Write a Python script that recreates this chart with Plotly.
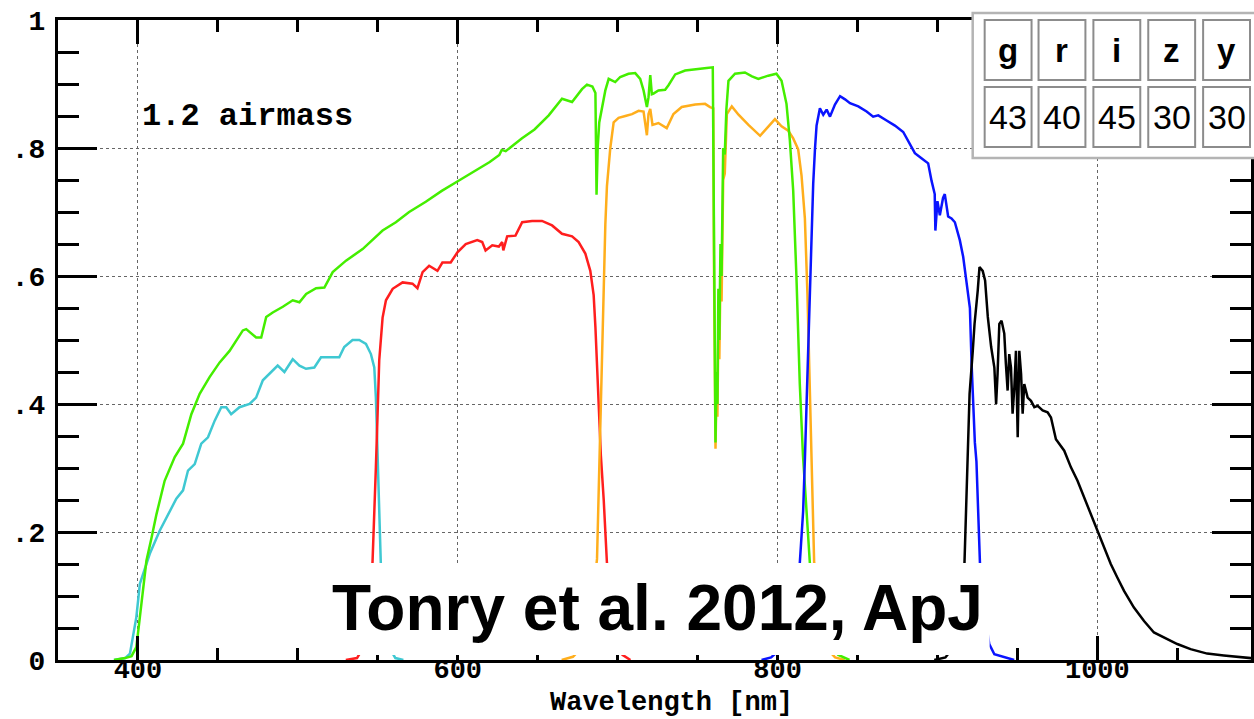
import plotly.graph_objects as go

# Throughput curves at 1.2 airmass (wavelength in nm, fractional throughput)
open_wl = [385, 392, 396, 399, 401.2, 403.6, 405.3, 408.4, 411.6, 416.7, 423, 428.2, 433.4,
           438.6, 444.8, 451.1, 457.3, 465.6, 467.7, 473.9, 477.1, 480.2, 484.3, 490.6, 496.8,
           501, 505.2, 511.4, 516.6, 521.8, 530.1, 540.5, 553, 561.3, 569.6, 580, 590, 600,
           610, 620, 626, 627.5, 630, 640, 648, 656.9, 665.2, 671.5, 677.7, 680.8, 684.2,
           686.1, 686.8, 687.5, 688.5, 690.2, 692.3, 694.4, 698.5, 701.6, 706.8, 711, 714.1,
           716.2, 718.3, 719.3, 720.4, 721.4, 722.4, 725.5, 729.7, 731.8, 736, 742.2, 750.5,
           755.7, 759.5, 760.2, 760.8, 761.2, 761.8, 762.4, 763, 763.6, 764.3, 765, 766, 767,
           768, 769.3, 773.4, 779.6, 784, 788, 794.2, 799.3, 802.5, 805.6, 807.7, 809.8, 811.8,
           813.9, 815.9, 818, 820.2, 824, 830, 838, 845]
open_tp = [0.0, 0.003, 0.006, 0.02, 0.067, 0.119, 0.155, 0.190, 0.228, 0.280, 0.317, 0.338, 0.384,
           0.416, 0.442, 0.465, 0.483, 0.515, 0.517, 0.504, 0.504, 0.536, 0.543, 0.552, 0.562,
           0.559, 0.572, 0.581, 0.582, 0.606, 0.624, 0.642, 0.671, 0.684, 0.700, 0.716, 0.733, 0.748,
           0.763, 0.778, 0.789, 0.797, 0.795, 0.815, 0.829, 0.851, 0.877, 0.872, 0.892, 0.899, 0.896,
           0.886, 0.727, 0.800, 0.840, 0.864, 0.890, 0.908, 0.903, 0.911, 0.916, 0.917, 0.908,
           0.890, 0.864, 0.879, 0.914, 0.884, 0.885, 0.890, 0.891, 0.898, 0.915, 0.921, 0.924,
           0.925, 0.926, 0.700, 0.400, 0.340, 0.450, 0.400, 0.580, 0.500, 0.650, 0.600, 0.800, 0.790,
           0.860, 0.905, 0.916, 0.918, 0.912, 0.908, 0.913, 0.916, 0.905, 0.869, 0.812, 0.733, 0.600,
           0.432, 0.320, 0.237, 0.152, 0.080, 0.030, 0.008, 0.0]

g_wl = [385, 392, 395, 397, 399, 401.2, 403.2, 407.4, 413.6, 419.9, 424, 428.2, 431.3, 435.5,
        439.6, 443.8, 448, 452.1, 455.2, 458.3, 463.5, 469.8, 473.9, 478.1, 482.3, 487.4, 491.6,
        496.8, 501, 505.1, 510.3, 514.5, 519.7, 525.9, 529, 534.2, 538.4, 542.6, 545.7, 547.8,
        548.8, 549.8, 550.9, 551.9, 554, 557, 561, 566]
g_tp = [0.0, 0.003, 0.01, 0.04, 0.067, 0.119, 0.135, 0.166, 0.202, 0.233, 0.252, 0.265, 0.296, 0.306,
        0.338, 0.348, 0.374, 0.395, 0.395, 0.384, 0.395, 0.400, 0.410, 0.437, 0.447, 0.460, 0.450,
        0.470, 0.460, 0.455, 0.457, 0.473, 0.473, 0.473, 0.489, 0.500, 0.500, 0.494, 0.478, 0.457,
        0.410, 0.332, 0.228, 0.150, 0.070, 0.020, 0.003, 0.0]

r_wl = [530, 537, 541, 544, 546.7, 547.8, 548.8, 549.8, 550.9, 553, 555.1, 559.3, 565.5, 571.7,
        574.8, 578, 582.1, 587.3, 590.4, 595.6, 599.8, 605, 612.2, 615.3, 617.4, 621.6, 625.7,
        627.8, 628.5, 630.9, 636.1, 640.3, 646.5, 652.7, 659, 665.2, 671.5, 675.6, 679.8, 682.9,
        685, 686.1, 687.1, 688.1, 689.5, 691.3, 693.3, 696, 699, 703, 708]
r_tp = [0.0, 0.003, 0.02, 0.06, 0.153, 0.218, 0.301, 0.379, 0.468, 0.535, 0.562, 0.580, 0.590, 0.588,
        0.581, 0.606, 0.616, 0.608, 0.621, 0.621, 0.637, 0.650, 0.656, 0.653, 0.640, 0.648, 0.646,
        0.653, 0.640, 0.662, 0.663, 0.684, 0.686, 0.686, 0.679, 0.666, 0.662, 0.653, 0.635, 0.608,
        0.570, 0.520, 0.460, 0.405, 0.320, 0.250, 0.152, 0.080, 0.030, 0.008, 0.0]

i_wl = [665, 672, 678, 683, 687.1, 688.1, 689.2, 690.2, 691.3, 692.3, 693.3, 695.4, 697.5, 700.6,
        704.8, 709, 713.1, 716.2, 718.3, 719.3, 720.4, 721.8, 725.5, 730.7, 734.9, 740.1, 748.5,
        754.7, 757.8, 759.8, 760.3, 760.8, 761.2, 761.8, 762.4, 763, 763.6, 764.3, 765, 766, 767,
        768.3, 771.4, 775.6, 781.8, 789.1, 794.2, 798.4, 802.5, 806.7, 809.8, 812.9, 815, 817.1,
        818.7, 820.2, 821.2, 822.3, 822.9, 826, 830, 836, 842]
i_tp = [0.0, 0.005, 0.02, 0.06, 0.158, 0.265, 0.377, 0.489, 0.601, 0.680, 0.740, 0.800, 0.840, 0.847,
        0.850, 0.853, 0.858, 0.857, 0.820, 0.853, 0.861, 0.836, 0.839, 0.831, 0.853, 0.864, 0.868,
        0.869, 0.864, 0.862, 0.600, 0.380, 0.330, 0.420, 0.380, 0.520, 0.470, 0.600, 0.560, 0.750, 0.760,
        0.853, 0.865, 0.852, 0.836, 0.819, 0.833, 0.845, 0.834, 0.827, 0.815, 0.798, 0.757, 0.690,
        0.572, 0.432, 0.320, 0.208, 0.152, 0.070, 0.020, 0.004, 0.0]

z_wl = [790, 796, 803, 809, 813.9, 816, 817.1, 818.1, 819.2, 820.2, 821.2, 822.3, 823.4, 824.4,
        826.5, 828.6, 830.7, 832.8, 835.9, 839.1, 842.2, 845.3, 850.5, 855.7, 859.8, 863, 868.2,
        873.4, 878.6, 882.7, 885.9, 890, 894.2, 896.3, 898.3, 898.7, 900, 901.5, 903.5, 904.6,
        906.7, 908.8, 910.9, 914, 916.1, 918.2, 920.3, 921.4, 922.4, 923.4, 924.4, 925.5, 926.6,
        929, 932.4, 935.6, 941.8, 948]
z_tp = [0.0, 0.004, 0.02, 0.07, 0.151, 0.232, 0.313, 0.393, 0.474, 0.555, 0.663, 0.744, 0.798, 0.835,
        0.862, 0.852, 0.860, 0.849, 0.868, 0.881, 0.876, 0.870, 0.865, 0.857, 0.849, 0.851, 0.843,
        0.835, 0.825, 0.806, 0.792, 0.784, 0.776, 0.749, 0.728, 0.671, 0.717, 0.695, 0.722, 0.728,
        0.693, 0.690, 0.684, 0.656, 0.630, 0.590, 0.550, 0.460, 0.390, 0.340, 0.310, 0.230, 0.151,
        0.080, 0.025, 0.009, 0.004, 0.0]

y_wl = [898, 905, 910, 914, 916.9, 917.9, 919, 920.1, 922.1, 923.2, 925.2, 926.3, 928.3, 929.8,
        931.5, 933.6, 935.6, 936.7, 937.6, 938.7, 940.1, 941.8, 942.8, 943.9, 944.9, 946, 947,
        948.1, 949.1, 950.2, 951.2, 952.3, 953.3, 954.3, 956.4, 958.5, 960.6, 962.7, 965.8, 968.9,
        971, 974.1, 979.3, 983.5, 987.6, 991.8, 996, 1000, 1004.2, 1008.4, 1012.5, 1016.7, 1022.9,
        1029.2, 1035.4, 1041.6, 1050, 1058.3, 1068.7, 1079.1, 1095.7, 1100]
y_tp = [0.0, 0.004, 0.02, 0.07, 0.151, 0.228, 0.317, 0.416, 0.483, 0.525, 0.577, 0.614, 0.608, 0.593,
        0.536, 0.489, 0.457, 0.400, 0.447, 0.525, 0.530, 0.510, 0.463, 0.421, 0.478, 0.457, 0.385,
        0.426, 0.483, 0.348, 0.483, 0.447, 0.385, 0.431, 0.410, 0.405, 0.395, 0.397, 0.390, 0.387,
        0.379, 0.345, 0.327, 0.301, 0.280, 0.254, 0.228, 0.202, 0.176, 0.150, 0.129, 0.108, 0.082,
        0.061, 0.043, 0.035, 0.025, 0.017, 0.010, 0.007, 0.003, 0.002]

x_ticks = [400, 600, 800, 1000]
y_ticks = [0, 0.2, 0.4, 0.6, 0.8, 1.0]
y_tick_text = ["0", ".2", ".4", ".6", ".8", "1"]

bands = ["g", "r", "i", "z", "y"]
band_values = [43, 40, 45, 30, 30]

W, H = 1254, 719
ML, MT, MB = 58, 20, 59
PW, PH = W - ML, H - MT - MB


def px(x):
    return (x - ML) / PW


def py(y):
    return (MT + PH - y) / PH


series = [
    (g_wl, g_tp, "#3fc8d2"),
    (r_wl, r_tp, "#ff1e1e"),
    (i_wl, i_tp, "#ffae1c"),
    (open_wl, open_tp, "#44ee00"),
    (z_wl, z_tp, "#0a14ff"),
    (y_wl, y_tp, "#000000"),
]

fig = go.Figure()
for wl, tp, col in series:
    fig.add_trace(go.Scatter(x=wl, y=tp, mode="lines",
                             line=dict(color=col, width=2.5), showlegend=False,
                             hoverinfo="skip"))

mono = "Liberation Mono, Courier New, monospace"
sans = "Liberation Sans, Arial, Helvetica, sans-serif"

fig.update_layout(
    width=W, height=H,
    margin=dict(l=ML, r=0, t=MT, b=MB, pad=0),
    paper_bgcolor="white", plot_bgcolor="white",
    xaxis=dict(range=[350, 350 + PW / 1.603], tickmode="array", tickvals=x_ticks,
               ticks="inside", ticklen=24, tickwidth=3, tickcolor="black",
               minor=dict(dtick=50, tick0=0, ticks="inside", ticklen=12, tickwidth=2.5,
                          tickcolor="black", showgrid=False),
               showline=True, linewidth=3, linecolor="black", mirror="ticks",
               showgrid=True, gridcolor="#666666", gridwidth=1, griddash="dot",
               zeroline=False, ticklabelstandoff=-17,
               tickfont=dict(family=mono, size=27, color="black", weight="bold")),
    yaxis=dict(range=[0, 1], tickmode="array", tickvals=y_ticks, ticktext=y_tick_text,
               ticks="inside", ticklen=39, tickwidth=3, tickcolor="black",
               minor=dict(dtick=0.05, tick0=0, ticks="inside", ticklen=21, tickwidth=2.5,
                          tickcolor="black", showgrid=False),
               showline=True, linewidth=3, linecolor="black", mirror="ticks",
               showgrid=True, gridcolor="#666666", gridwidth=1, griddash="dot",
               zeroline=False, ticklabelstandoff=4,
               tickfont=dict(family=mono, size=28, color="black", weight="bold")),
)

shapes = []
annotations = []

# citation box
shapes.append(dict(type="rect", xref="paper", yref="paper", x0=px(322), x1=px(992),
                   y0=py(655), y1=py(563), fillcolor="white", line=dict(width=0),
                   layer="above"))
annotations.append(dict(text="<b>Tonry et al. 2012, ApJ</b>", xref="paper", yref="paper",
                        x=px(331), y=py(608), xanchor="left", yanchor="middle",
                        showarrow=False,
                        font=dict(family=sans, size=64, color="black")))

# airmass label
annotations.append(dict(text="<b>1.2 airmass</b>", xref="paper", yref="paper",
                        x=px(140), y=py(116), xanchor="left", yanchor="middle",
                        showarrow=False, font=dict(family=mono, size=32, color="black")))

# axis title
annotations.append(dict(text="<b>Wavelength [nm]</b>", xref="paper", yref="paper",
                        x=px(673), y=py(703), xanchor="center", yanchor="middle",
                        showarrow=False, font=dict(family=mono, size=27, color="black")))

# exposure-time table
shapes.append(dict(type="rect", xref="paper", yref="paper", x0=px(975), x1=px(1275),
                   y0=py(158), y1=py(13), fillcolor="white",
                   line=dict(color="#b4b4b4", width=2.5), layer="above"))
col_left = [987, 1041, 1096, 1151, 1206]
cell_w = 47
rows = [(20, 80), (87, 147)]
for k, (b, v) in enumerate(zip(bands, band_values)):
    x0 = col_left[k]
    for (ya, yb), txt, bold, size in ((rows[0], b, True, 33), (rows[1], str(v), False, 34)):
        shapes.append(dict(type="rect", xref="paper", yref="paper", x0=px(x0), x1=px(x0 + cell_w),
                           y0=py(yb), y1=py(ya), fillcolor="white",
                           line=dict(color="#8c8c8c", width=2), layer="above"))
        annotations.append(dict(text=f"<b>{txt}</b>" if bold else txt, xref="paper", yref="paper",
                                x=px(x0 + cell_w / 2), y=py((ya + yb) / 2),
                                xanchor="center", yanchor="middle", showarrow=False,
                                font=dict(family=sans, size=size, color="black")))

fig.update_layout(shapes=shapes, annotations=annotations)
fig.write_html("out.html")
